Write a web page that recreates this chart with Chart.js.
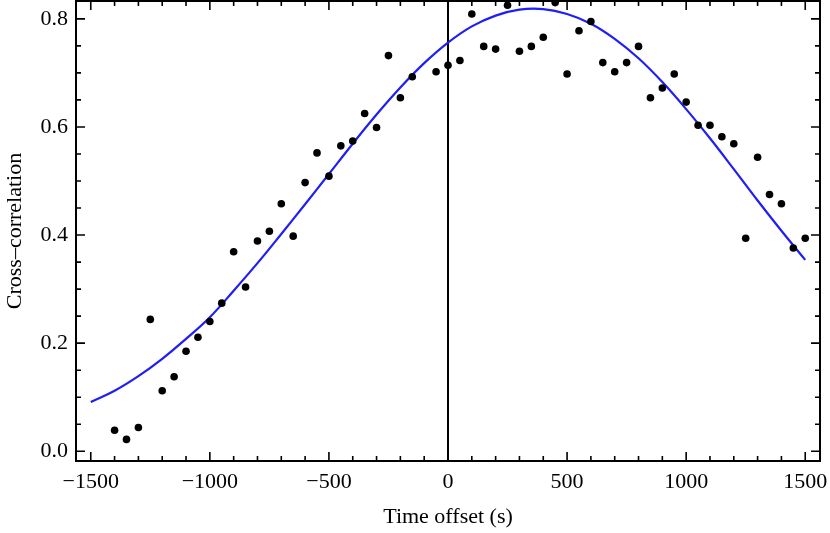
<!DOCTYPE html>
<html>
<head>
<meta charset="utf-8">
<script src="https://cdn.jsdelivr.net/npm/chart.js@4.4.1/dist/chart.umd.min.js"></script>
<style>
  html, body { margin: 0; padding: 0; background: #fff; }
</style>
</head>
<body>
<canvas id="xcorr" width="830" height="533"></canvas>
<script>
// measured cross-correlation (every 50 s, -100 s missing in the source)
const offsets = [-1400, -1350, -1300, -1250, -1200, -1150, -1100, -1050, -1000, -950,
  -900, -850, -800, -750, -700, -650, -600, -550, -500, -450,
  -400, -350, -300, -250, -200, -150, -50, 0, 50, 100,
  150, 200, 250, 300, 350, 400, 450, 500, 550, 600,
  650, 700, 750, 800, 850, 900, 950, 1000, 1050, 1100,
  1150, 1200, 1250, 1300, 1350, 1400, 1450, 1500];
const corr = [0.039, 0.022, 0.044, 0.244, 0.112, 0.138, 0.185, 0.211, 0.240, 0.274,
  0.369, 0.304, 0.389, 0.407, 0.458, 0.398, 0.497, 0.552, 0.509, 0.565,
  0.574, 0.625, 0.599, 0.732, 0.654, 0.693, 0.702, 0.714, 0.723, 0.809,
  0.749, 0.744, 0.825, 0.740, 0.749, 0.766, 0.830, 0.698, 0.778, 0.795,
  0.719, 0.702, 0.719, 0.749, 0.654, 0.672, 0.698, 0.646, 0.603, 0.603,
  0.582, 0.569, 0.394, 0.544, 0.475, 0.458, 0.376, 0.394];

// fitted curve, every 100 s
const fitX = [-1500, -1400, -1300, -1200, -1100, -1000, -900, -800, -700, -600, -500,
  -400, -300, -200, -100, 0, 100, 200, 300, 400, 500,
  600, 700, 800, 900, 1000, 1100, 1200, 1300, 1400, 1500];
const fitY = [0.091, 0.112, 0.139, 0.171, 0.208, 0.248, 0.297, 0.348, 0.402, 0.457, 0.513,
  0.569, 0.623, 0.673, 0.718, 0.756, 0.786, 0.806, 0.817, 0.818, 0.809,
  0.791, 0.763, 0.727, 0.683, 0.633, 0.579, 0.522, 0.464, 0.408, 0.354];

// zero-offset marker
const zeroLine = [0];

const xTicks = [-1500, -1000, -500, 0, 500, 1000, 1500];
const yTicks = [0.0, 0.2, 0.4, 0.6, 0.8];
const xMinorStep = 100;
const yMinorStep = 0.05;

const serif = '"Liberation Serif", "Times New Roman", serif';

// inward ticks on all four sides plus the frame
const frameTicks = {
    id: 'frameTicks',
    afterDatasetsDraw(chart) {
        const { ctx, chartArea: a, scales: { x, y } } = chart;
        ctx.save();
        ctx.strokeStyle = '#000';
        ctx.lineWidth = 1.6;
        ctx.beginPath();
        for (let v = -1500; v <= 1500; v += xMinorStep) {
            const p = x.getPixelForValue(v);
            const len = xTicks.includes(v) ? 9 : 5;
            ctx.moveTo(p, a.bottom); ctx.lineTo(p, a.bottom - len);
            ctx.moveTo(p, a.top); ctx.lineTo(p, a.top + len);
        }
        for (let i = 0; i <= 16; i++) {
            const p = y.getPixelForValue(i * yMinorStep);
            const len = i % 4 === 0 ? 9 : 5;
            ctx.moveTo(a.left, p); ctx.lineTo(a.left + len, p);
            ctx.moveTo(a.right, p); ctx.lineTo(a.right - len, p);
        }
        ctx.stroke();
        ctx.lineWidth = 2;
        ctx.strokeRect(a.left, a.top, a.right - a.left, a.bottom - a.top);
        ctx.restore();
    }
};

const ctx = document.getElementById('xcorr').getContext('2d');
new Chart(ctx, {
    type: 'scatter',
    data: {
        datasets: [
            {
                label: 'zero',
                type: 'line',
                data: zeroLine.flatMap(v => [{ x: v, y: -0.1 }, { x: v, y: 1 }]),
                borderColor: '#000',
                borderWidth: 2,
                pointRadius: 0,
                order: 3
            },
            {
                label: 'fit',
                type: 'line',
                data: fitX.map((v, i) => ({ x: v, y: fitY[i] })),
                borderColor: 'rgb(30, 30, 245)',
                borderWidth: 2.2,
                pointRadius: 0,
                tension: 0.4,
                order: 2
            },
            {
                label: 'data',
                data: offsets.map((v, i) => ({ x: v, y: corr[i] })),
                backgroundColor: '#000',
                borderWidth: 0,
                pointRadius: 3.8,
                order: 1
            }
        ]
    },
    options: {
        responsive: false,
        animation: false,
        devicePixelRatio: 1,
        layout: { autoPadding: false, padding: { top: 1, right: 10, left: 0, bottom: 0 } },
        plugins: {
            legend: { display: false },
            tooltip: { enabled: false }
        },
        scales: {
            x: {
                type: 'linear',
                min: -1562,
                max: 1562,
                afterBuildTicks: s => { s.ticks = xTicks.map(v => ({ value: v })); },
                afterFit: s => { s.height = 72; s.paddingLeft = 0; s.paddingRight = 0; },
                grid: { display: false, drawTicks: false, tickLength: 0 },
                border: { display: false },
                ticks: {
                    padding: 8,
                    color: '#000',
                    font: { family: serif, size: 22 },
                    callback: v => (v < 0 ? '\u2212' + Math.abs(v) : String(v))
                },
                title: {
                    display: true,
                    text: 'Time offset (s)',
                    color: '#000',
                    font: { family: serif, size: 22 },
                    padding: { top: 0, bottom: 3 }
                }
            },
            y: {
                type: 'linear',
                min: -0.018,
                max: 0.833,
                afterBuildTicks: s => { s.ticks = yTicks.map(v => ({ value: v })); },
                afterFit: s => { s.width = 76; s.paddingTop = 0; s.paddingBottom = 0; },
                grid: { display: false, drawTicks: false, tickLength: 0 },
                border: { display: false },
                ticks: {
                    padding: 8,
                    color: '#000',
                    font: { family: serif, size: 22 },
                    callback: v => Number(v).toFixed(1)
                },
                title: {
                    display: true,
                    text: 'Cross\u2013correlation',
                    color: '#000',
                    font: { family: serif, size: 22 },
                    padding: { top: 2, bottom: 0 }
                }
            }
        }
    },
    plugins: [frameTicks]
});
</script>
</body>
</html>
